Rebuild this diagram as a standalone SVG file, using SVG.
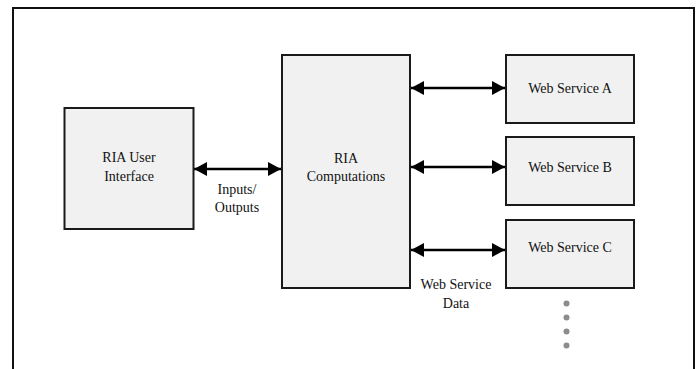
<svg xmlns="http://www.w3.org/2000/svg" width="697" height="369" viewBox="0 0 697 369">
<style>
.box{fill:#f1f1f1;stroke:#1a1a1a;stroke-width:2}
.t{font-family:"Liberation Serif","Times New Roman",serif;font-size:14px;fill:#111;text-anchor:middle}
.c{stroke:#000;stroke-width:2.5;fill:none}
.dot{fill:#8c8c8c}
</style>
<defs>
<marker id="ah" viewBox="0 0 13 14" refX="13" refY="7" markerWidth="13" markerHeight="14" markerUnits="userSpaceOnUse" orient="auto-start-reverse">
<path d="M0,0 L13,7 L0,14 Z" fill="#000"/>
</marker>
</defs>
<rect x="0" y="0" width="697" height="369" fill="#fff"/>
<path d="M13,375 V8 H694 V375" fill="none" stroke="#111" stroke-width="2"/>
<g id="connectors">
<line class="c" x1="194" y1="169" x2="281" y2="169" marker-start="url(#ah)" marker-end="url(#ah)"/>
<line class="c" x1="411" y1="88" x2="505" y2="88" marker-start="url(#ah)" marker-end="url(#ah)"/>
<line class="c" x1="411" y1="167" x2="505" y2="167" marker-start="url(#ah)" marker-end="url(#ah)"/>
<line class="c" x1="411" y1="250" x2="505" y2="250" marker-start="url(#ah)" marker-end="url(#ah)"/>
<text class="t" x="237" y="194">Inputs/</text>
<text class="t" x="237" y="212">Outputs</text>
<text class="t" x="456" y="289">Web Service</text>
<text class="t" x="456" y="308">Data</text>
</g>
<g id="ui">
<rect class="box" x="64.5" y="108" width="129" height="121"/>
<text class="t" x="129" y="162">RIA User</text>
<text class="t" x="129" y="181">Interface</text>
</g>
<g id="computations">
<rect class="box" x="282" y="55" width="128" height="233"/>
<text class="t" x="346" y="163">RIA</text>
<text class="t" x="346" y="181">Computations</text>
</g>
<g id="wsA">
<rect class="box" x="506" y="55" width="128" height="68"/>
<text class="t" x="570" y="93">Web Service A</text>
</g>
<g id="wsB">
<rect class="box" x="506" y="137" width="128" height="68"/>
<text class="t" x="570" y="172">Web Service B</text>
</g>
<g id="wsC">
<rect class="box" x="506" y="220" width="128" height="68"/>
<text class="t" x="570" y="252">Web Service C</text>
</g>
<g id="more">
<circle class="dot" cx="566.5" cy="303.5" r="3"/>
<circle class="dot" cx="566.5" cy="317.5" r="3"/>
<circle class="dot" cx="566.5" cy="331.5" r="3"/>
<circle class="dot" cx="566.5" cy="345.5" r="3"/>
</g>
</svg>
